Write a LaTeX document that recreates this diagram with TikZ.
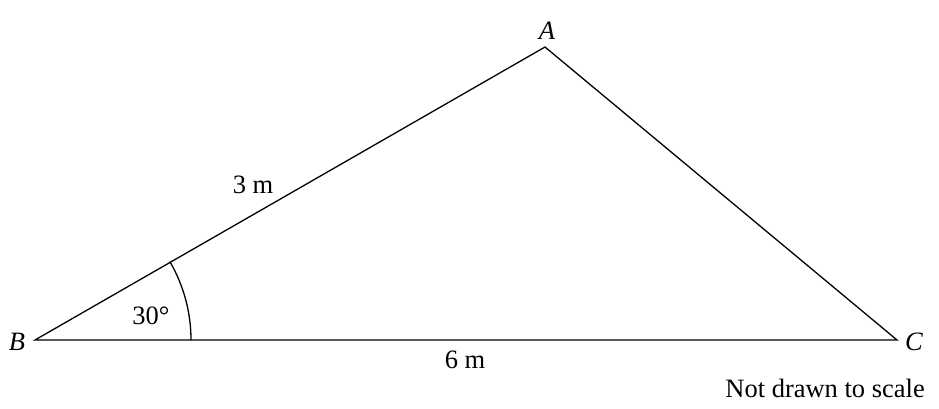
\documentclass[tikz,border=0pt]{standalone}
\usepackage{fontspec}
\setmainfont{Liberation Serif}
\begin{document}
\begin{tikzpicture}[x=1pt,y=-1pt,
  edge/.style={line width=1.3pt,line cap=round,line join=miter},
  lbl/.style={inner sep=0pt,font=\fontsize{26.5}{30}\selectfont}]
\useasboundingbox (0,0) rectangle (939,409);
\coordinate (B) at (35,340);
\coordinate (C) at (897,340);
\coordinate (A) at (545,47);
\draw[edge] (B) -- (A) -- (C) -- cycle;
\draw[edge] ([shift={(0:156)}]B) arc[start angle=0,end angle=-30,radius=156];
\node[lbl] (la) at (547,31) {\itshape A};
\node[lbl] (lb) at (17,342) {\itshape B};
\node[lbl] (lc) at (914,342) {\itshape C};
\node[lbl] (l3) at (253,185) {3 m};
\node[lbl] (l6) at (465,360) {6 m};
\node[lbl] (l30) at (151,316) {30°};
\node[lbl,anchor=east] (nd) at (925,388) {Not drawn to scale};
\end{tikzpicture}
\end{document}
